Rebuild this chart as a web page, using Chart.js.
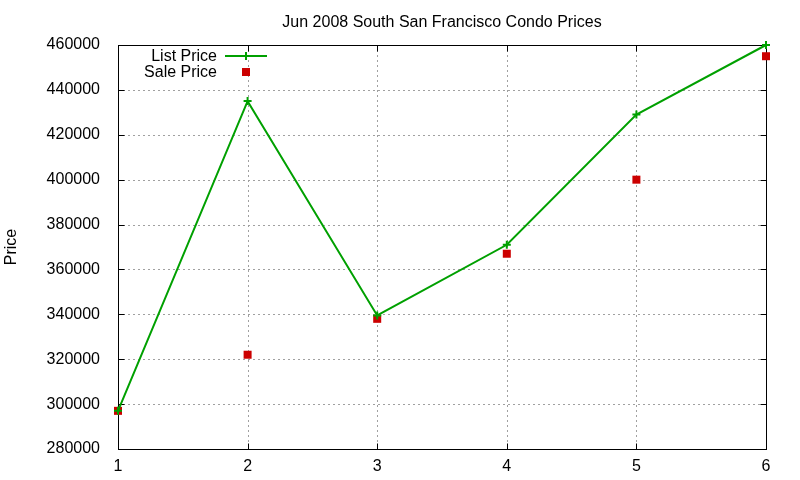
<!DOCTYPE html>
<html>
<head>
<meta charset="utf-8">
<script src="https://cdn.jsdelivr.net/npm/chart.js@4/dist/chart.umd.min.js"></script>
<style>
html,body{margin:0;padding:0;background:#fff;}
#wrap{width:800px;height:480px;}
</style>
</head>
<body>
<div id="wrap"><canvas id="c" width="800" height="480"></canvas></div>
<script>
const categories = [1, 2, 3, 4, 5, 6];
const listPrice = [297000, 435000, 339500, 371000, 429000, 460000];
const salePrice = [297000, 322000, 338000, 367000, 400000, 455000];
const yTicks = [280000, 300000, 320000, 340000, 360000, 380000, 400000, 420000, 440000, 460000];
const xTicks = [1, 2, 3, 4, 5, 6];

const FONT = 'Liberation Sans, Arial, Helvetica, sans-serif';
const GREEN = '#00a000';
const RED = '#cc0000';

const framePlugin = {
  id: 'frame',
  beforeDatasetsDraw(chart) {
    const {ctx, chartArea: a, scales} = chart;
    ctx.save();
    ctx.lineWidth = 1;
    ctx.strokeStyle = '#a0a0a0';
    ctx.setLineDash([2, 3]);
    yTicks.forEach(v => {
      const y = Math.round(scales.y.getPixelForValue(v)) + 0.5;
      ctx.beginPath(); ctx.moveTo(a.left, y); ctx.lineTo(a.right, y); ctx.stroke();
    });
    xTicks.forEach(v => {
      const x = Math.round(scales.x.getPixelForValue(v)) + 0.5;
      ctx.beginPath(); ctx.moveTo(x, a.top); ctx.lineTo(x, a.bottom); ctx.stroke();
    });
    ctx.setLineDash([]);
    ctx.strokeStyle = '#000';
    const L = Math.round(a.left) + 0.5, R = Math.round(a.right) + 0.5,
          T = Math.round(a.top) + 0.5, B = Math.round(a.bottom) + 0.5;
    ctx.strokeRect(L, T, R - L, B - T);
    const tl = 6;
    yTicks.forEach(v => {
      const y = Math.round(scales.y.getPixelForValue(v)) + 0.5;
      ctx.beginPath();
      ctx.moveTo(L, y); ctx.lineTo(L + tl, y);
      ctx.moveTo(R, y); ctx.lineTo(R - tl, y);
      ctx.stroke();
    });
    xTicks.forEach(v => {
      const x = Math.round(scales.x.getPixelForValue(v)) + 0.5;
      ctx.beginPath();
      ctx.moveTo(x, B); ctx.lineTo(x, B - tl);
      ctx.moveTo(x, T); ctx.lineTo(x, T + tl);
      ctx.stroke();
    });
    ctx.restore();
  },
  afterDatasetsDraw(chart) {
    const {ctx} = chart;
    ctx.save();
    ctx.font = '16px ' + FONT;
    ctx.fillStyle = '#000';
    ctx.textAlign = 'right';
    ctx.textBaseline = 'middle';
    const labels = chart.data.datasets.map(d => d.label);
    const tx = 217, sx1 = 225, sx2 = 267, mx = 246;
    const y1 = 56, y2 = 72;
    ctx.fillText(labels[0], tx, y1 + 1);
    ctx.fillText(labels[1], tx, y2 + 1);
    ctx.strokeStyle = GREEN;
    ctx.lineWidth = 2;
    ctx.beginPath(); ctx.moveTo(sx1, y1); ctx.lineTo(sx2, y1); ctx.stroke();
    ctx.beginPath(); ctx.moveTo(mx, y1 - 4); ctx.lineTo(mx, y1 + 4); ctx.stroke();
    ctx.fillStyle = RED;
    ctx.fillRect(mx - 4, y2 - 4, 8, 8);
    ctx.restore();
  }
};

new Chart(document.getElementById('c'), {
  type: 'line',
  data: {
    datasets: [
      {
        label: 'List Price',
        data: categories.map((c, i) => ({x: c, y: listPrice[i]})),
        borderColor: GREEN,
        backgroundColor: GREEN,
        borderWidth: 2,
        pointStyle: 'cross',
        pointRadius: 4,
        pointBorderWidth: 2,
        pointBorderColor: GREEN,
        tension: 0,
        clip: false
      },
      {
        label: 'Sale Price',
        data: categories.map((c, i) => ({x: c, y: salePrice[i]})),
        showLine: false,
        pointStyle: 'rect',
        pointRadius: 5.66,
        pointBorderWidth: 0,
        pointBackgroundColor: RED,
        borderColor: RED,
        backgroundColor: RED,
        clip: false
      }
    ]
  },
  options: {
    responsive: false,
    animation: false,
    events: [],
    layout: {padding: {left: 0, right: 34, top: 0, bottom: 0}},
    plugins: {
      legend: {display: false},
      tooltip: {enabled: false},
      title: {
        display: true,
        text: 'Jun 2008 South San Francisco Condo Prices',
        fullSize: false,
        color: '#000',
        font: {family: FONT, size: 16, weight: 'normal', lineHeight: 1},
        padding: {top: 15, bottom: 14}
      }
    },
    scales: {
      x: {
        type: 'linear',
        min: 1, max: 6,
        grid: {display: false},
        border: {display: false},
        afterFit(s) { s.height = 31; },
        afterBuildTicks(s) { s.ticks = xTicks.map(v => ({value: v})); },
        ticks: {
          color: '#000',
          padding: 2,
          maxRotation: 0,
          autoSkip: false,
          font: {family: FONT, size: 16, lineHeight: 1}
        }
      },
      y: {
        type: 'linear',
        min: 280000, max: 460000,
        grid: {display: false},
        border: {display: false},
        afterFit(s) { s.width = 118; },
        afterBuildTicks(s) { s.ticks = yTicks.map(v => ({value: v})); },
        title: {
          display: true,
          text: 'Price',
          color: '#000',
          font: {family: FONT, size: 16, lineHeight: 1},
          padding: {top: 4, bottom: 0}
        },
        ticks: {
          color: '#000',
          padding: 10,
          autoSkip: false,
          font: {family: FONT, size: 16, lineHeight: 1},
          callback: v => String(v)
        }
      }
    }
  },
  plugins: [framePlugin]
});
</script>
</body>
</html>
